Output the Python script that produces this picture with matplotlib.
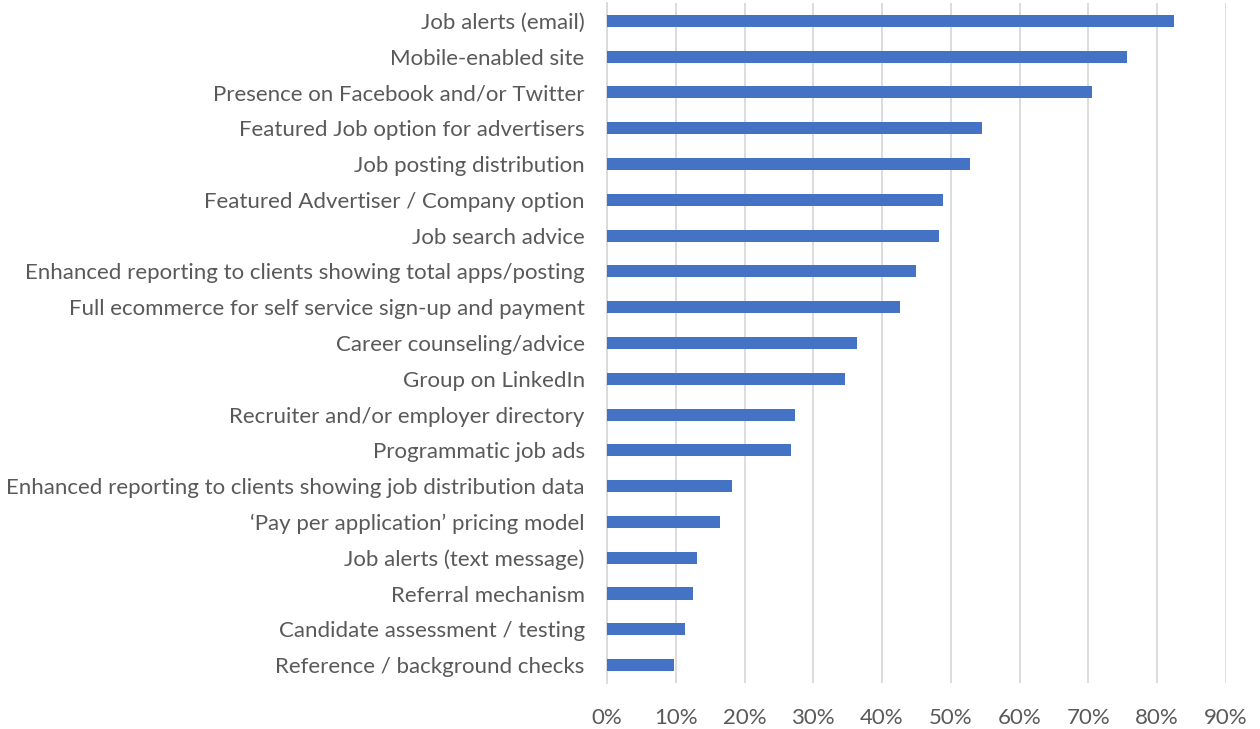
import matplotlib.pyplot as plt
import matplotlib.ticker as ticker

features = [
    "Job alerts (email)",
    "Mobile-enabled site",
    "Presence on Facebook and/or Twitter",
    "Featured Job option for advertisers",
    "Job posting distribution",
    "Featured Advertiser / Company option",
    "Job search advice",
    "Enhanced reporting to clients showing total apps/posting",
    "Full ecommerce for self service sign-up and payment",
    "Career counseling/advice",
    "Group on LinkedIn",
    "Recruiter and/or employer directory",
    "Programmatic job ads",
    "Enhanced reporting to clients showing job distribution data",
    "\u2018Pay per application\u2019 pricing model",
    "Job alerts (text message)",
    "Referral mechanism",
    "Candidate assessment / testing",
    "Reference / background checks",
]
shares = [0.824, 0.756, 0.705, 0.546, 0.528, 0.488, 0.483, 0.449, 0.426,
          0.364, 0.346, 0.273, 0.268, 0.182, 0.165, 0.131, 0.125, 0.114, 0.097]
xticks = [0.0, 0.1, 0.2, 0.3, 0.4, 0.5, 0.6, 0.7, 0.8, 0.9]

plt.rcParams['font.family'] = ['Lato', 'DejaVu Sans']

fig = plt.figure(figsize=(12.6, 7.29), dpi=100)
axis = fig.add_axes([0.4817, 0.063, 0.4913, 0.933])

pos = list(range(len(features)))
axis.barh(pos, shares, height=0.34, color="#4472C4", zorder=3)
axis.set_yticks(pos)
axis.set_yticklabels(features)
axis.set_ylim(len(features) - 0.5, -0.5)

axis.set_xlim(0, 0.9)
axis.set_xticks(xticks)
axis.xaxis.set_major_formatter(ticker.PercentFormatter(1.0, decimals=0))
axis.grid(axis="x", color="#D9D9D9", linewidth=1.3, zorder=0)

for side in ["top", "right", "bottom"]:
    axis.spines[side].set_visible(False)
axis.spines["left"].set_color("#D9D9D9")
axis.spines["left"].set_linewidth(1.3)

axis.tick_params(axis="both", length=0, colors="#595959", labelsize=16)
axis.tick_params(axis="y", pad=16)
axis.tick_params(axis="x", pad=18)

plt.savefig("out.png", dpi=100)
